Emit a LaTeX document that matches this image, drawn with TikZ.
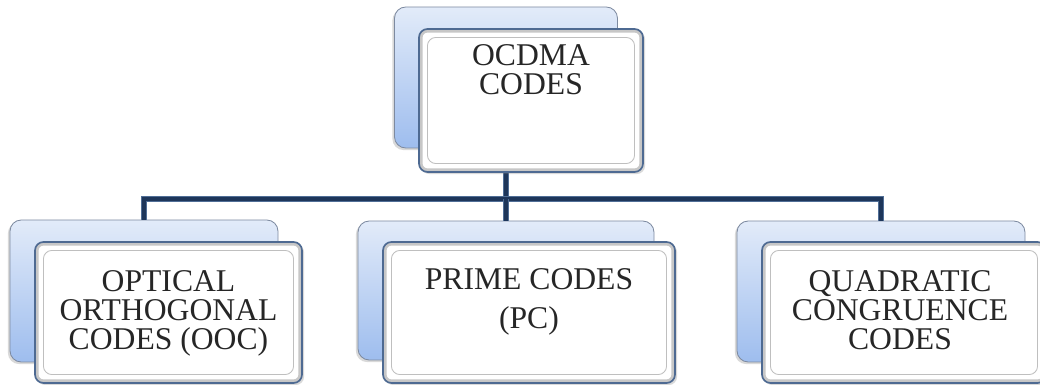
\documentclass[tikz,border=0pt]{standalone}
\usepackage{fontspec}
\setmainfont{Liberation Serif}
\usetikzlibrary{shadows}

\definecolor{backtop}{RGB}{226,235,249}
\definecolor{backbottom}{RGB}{158,189,238}
\definecolor{backedge}{RGB}{125,138,160}
\definecolor{frontedge}{RGB}{78,106,146}
\definecolor{linkcore}{RGB}{30,54,90}
\definecolor{linkedge}{RGB}{80,110,150}

\begin{document}
\begin{tikzpicture}[x=0.025cm, y=-0.025cm, font=\fontsize{22.5}{20.5}\selectfont]
	\def\px{0.025cm}
	\tikzset{
		backbox/.style={draw=backedge, line width=0.6pt, rounded corners=8pt,
			top color=backtop, bottom color=backbottom,
			drop shadow={shadow xshift=-1.5pt, shadow yshift=-1.5pt, opacity=0.3}},
		frontbox/.style={draw=frontedge, line width=1.2pt, rounded corners=6pt, fill=white,
			drop shadow={shadow xshift=1.5pt, shadow yshift=-1.5pt, opacity=0.3},
			path picture={
				\draw[black!22, line width=5pt] (path picture bounding box.south west) rectangle (path picture bounding box.north east);
				\draw[black!25, line width=0.6pt] ([shift={(6pt,6pt)}]path picture bounding box.south west) rectangle ([shift={(-6pt,-6pt)}]path picture bounding box.north east);
			}},
		boxtext/.style={anchor=north, align=center, inner sep=0pt, text=black!85},
		link/.style={draw=linkedge, line width=0.6pt, double=linkcore, double distance=2.6pt},
	}
	\useasboundingbox (0,0) rectangle (1040,385);

	% back boxes
	\node[backbox, minimum width=223*\px, minimum height=141*\px] (ocdmaback) at (506,77.5) {};
	\node[backbox, minimum width=268*\px, minimum height=142*\px] (oocback) at (144,291) {};
	\node[backbox, minimum width=296*\px, minimum height=139*\px] (pcback) at (506,290.5) {};
	\node[backbox, minimum width=288*\px, minimum height=141*\px] (qccback) at (881,291.5) {};

	% connectors
	\coordinate (bus) at (ocdmaback.south |- 0,199);
	\draw[link] (ocdmaback.south) -- (bus);
	\draw[link] (oocback.north) |- (bus) -| (qccback.north);
	\draw[link] (bus) -- (pcback.north);

	% front boxes
	\node[frontbox, minimum width=224*\px, minimum height=143*\px,
		label={[boxtext, yshift=-16*\px]north:OCDMA\\CODES}] (ocdma) at ([shift={(25,23)}]ocdmaback) {};
	\node[frontbox, minimum width=267*\px, minimum height=141*\px,
		label={[boxtext, yshift=-29*\px]north:OPTICAL\\ORTHOGONAL\\CODES (OOC)}] (ooc) at ([shift={(24.5,21.5)}]oocback) {};
	\node[frontbox, minimum width=292*\px, minimum height=141*\px,
		label={[boxtext, yshift=-27*\px]north:PRIME CODES\\[7pt](PC)}] (pc) at ([shift={(23,22)}]pcback) {};
	\node[frontbox, minimum width=284*\px, minimum height=141*\px,
		label={[boxtext, xshift=-4*\px, yshift=-29*\px]north:QUADRATIC\\CONGRUENCE\\CODES}] (qcc) at ([shift={(23,21)}]qccback) {};
\end{tikzpicture}
\end{document}
